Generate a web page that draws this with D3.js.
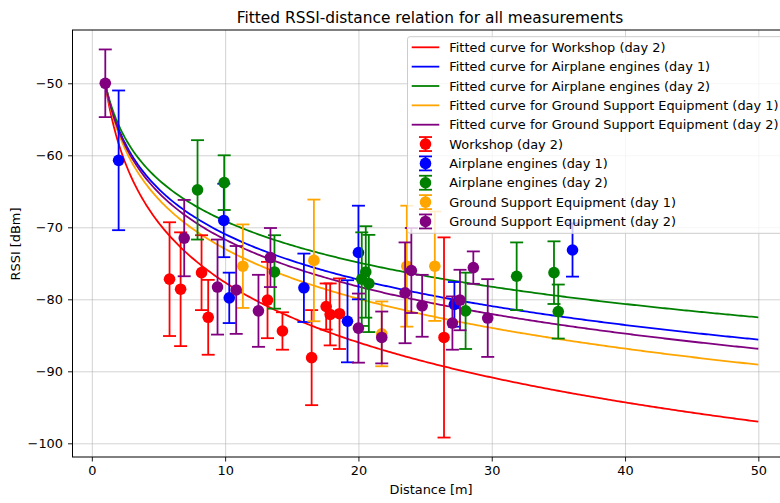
<!DOCTYPE html>
<html>
<head>
<meta charset="utf-8">
<script src="https://cdn.jsdelivr.net/npm/d3@7"></script>
<style>
  body { margin: 0; background: #fff; }
  svg { display: block; font-family: "DejaVu Sans", sans-serif; }
  .axis path, .axis line { stroke: #000; stroke-width: 0.9; }
  .axis text { font-size: 12.9px; fill: #000; font-family: "DejaVu Sans", sans-serif; }
  .grid line { stroke: #b0b0b0; stroke-opacity: 0.7; stroke-width: 0.8; }
  .grid path { display: none; }
</style>
</head>
<body>
<div id="chart"></div>
<script>
// series names, colours
let seriesNames = ['Workshop (day 2)', 'Airplane engines (day 1)', 'Airplane engines (day 2)',
                   'Ground Support Equipment (day 1)', 'Ground Support Equipment (day 2)'];
let seriesColors = ['red', 'blue', 'green', 'orange', 'purple'];

// fitted log-distance model: RSSI = fitRef - 10 * n * log10(d)
let fitRef = [-50, -50, -50, -50, -50];
let fitN = [2.766, 2.095, 1.913, 2.30, 2.17];
let fitRange = [1, 50];

// measurements: distance, mean rssi, error
let workshopX   = [5.83, 6.66, 8.23, 8.73, 13.18, 14.30, 16.49, 17.58, 17.88, 18.58, 26.42];
let workshopY   = [-77.2, -78.6, -76.3, -82.5, -80.1, -84.4, -88.1, -81.0, -82.1, -82.0, -85.3];
let workshopErr = [7.9, 7.9, 5.2, 5.2, 5.3, 2.6, 6.6, 3.2, 4.3, 4.9, 13.9];

let engines1X   = [2.01, 9.90, 10.31, 15.91, 19.18, 20.00, 27.20, 36.06];
let engines1Y   = [-60.7, -69.05, -79.8, -78.4, -83.05, -73.5, -80.7, -73.15];
let engines1Err = [9.7, 5.1, 3.5, 4.75, 5.7, 6.5, 3.1, 3.7];

let engines2X   = [7.93, 9.93, 13.70, 20.25, 20.55, 20.78, 28.04, 31.87, 34.67, 34.99];
let engines2Y   = [-64.8, -63.8, -76.2, -77.2, -76.2, -77.8, -81.6, -76.8, -76.3, -81.7];
let engines2Err = [6.9, 3.8, 5.1, 6.5, 6.35, 6.75, 5.3, 4.7, 4.35, 3.75];

let gse1X   = [11.33, 16.66, 21.75, 23.63, 25.73];
let gse1Y   = [-75.4, -74.6, -84.8, -75.4, -75.4];
let gse1Err = [5.8, 8.45, 4.5, 8.4, 7.6];

let gse2X   = [1.01, 6.93, 9.43, 10.83, 12.50, 13.40, 20.00, 21.75, 23.50, 23.97, 24.78, 27.05, 27.62, 28.62, 29.70];
let gse2Y   = [-50.0, -71.5, -78.3, -78.7, -81.6, -74.2, -84.0, -85.3, -79.1, -76.0, -80.9, -83.3, -80.1, -75.6, -82.6];
let gse2Err = [4.7, 5.3, 6.6, 6.1, 5.0, 4.1, 4.8, 3.6, 7.0, 5.9, 4.3, 3.7, 4.2, 2.25, 5.4];

let xTicks = [0, 10, 20, 30, 40, 50];
let yTicks = [-100, -90, -80, -70, -60, -50];

let measX = [workshopX, engines1X, engines2X, gse1X, gse2X];
let measY = [workshopY, engines1Y, engines2Y, gse1Y, gse2Y];
let measErr = [workshopErr, engines1Err, engines2Err, gse1Err, gse2Err];

let W = 780, H = 503;
let mLeft = 72.5, mRight = 791, mTop = 30, mBottom = 457;

let svg = d3.select('#chart').append('svg')
    .attr('width', W)
    .attr('height', H);

let x = d3.scaleLinear().domain([-1.45, 52.45]).range([mLeft, mRight]);
let y = d3.scaleLinear().domain([-101.9, -42.6]).range([mBottom, mTop]);

// grid
svg.append('g').attr('class', 'grid')
    .attr('transform', 'translate(0,' + mBottom + ')')
    .call(d3.axisBottom(x).tickValues(xTicks).tickSize(-(mBottom - mTop)).tickFormat(''));
svg.append('g').attr('class', 'grid')
    .attr('transform', 'translate(' + mLeft + ',0)')
    .call(d3.axisLeft(y).tickValues(yTicks).tickSize(-(mRight - mLeft)).tickFormat(''));

let plot = svg.append('g');

// fitted curves
let line = d3.line().x(d => x(d[0])).y(d => y(d[1]));
seriesNames.forEach((name, i) => {
    let pts = [];
    let steps = 300;
    for (let k = 0; k <= steps; k++) {
        let d = fitRange[0] + (fitRange[1] - fitRange[0]) * k / steps;
        pts.push([d, fitRef[i] - 10 * fitN[i] * Math.log10(d)]);
    }
    plot.append('path')
        .attr('d', line(pts))
        .attr('fill', 'none')
        .attr('stroke', seriesColors[i])
        .attr('stroke-width', 1.8);
});

// error bars + markers
let capW = 6.5;
seriesNames.forEach((name, i) => {
    let g = plot.append('g');
    let col = seriesColors[i];
    measX[i].forEach((xv, k) => {
        let yv = measY[i][k], e = measErr[i][k];
        let cx = x(xv);
        g.append('line')
            .attr('x1', cx).attr('x2', cx)
            .attr('y1', y(yv - e)).attr('y2', y(yv + e))
            .attr('stroke', col).attr('stroke-width', 1.8);
        [yv - e, yv + e].forEach(v => {
            g.append('line')
                .attr('x1', cx - capW).attr('x2', cx + capW)
                .attr('y1', y(v)).attr('y2', y(v))
                .attr('stroke', col).attr('stroke-width', 1.8);
        });
    });
    measX[i].forEach((xv, k) => {
        g.append('circle')
            .attr('cx', x(xv))
            .attr('cy', y(measY[i][k]))
            .attr('r', 5.8)
            .attr('fill', col);
    });
});

// axes
let xAxis = svg.append('g').attr('class', 'axis')
    .attr('transform', 'translate(0,' + mBottom + ')')
    .call(d3.axisBottom(x).tickValues(xTicks).tickSizeOuter(0).tickSize(4.5).tickPadding(4.5));
let yAxis = svg.append('g').attr('class', 'axis')
    .attr('transform', 'translate(' + mLeft + ',0)')
    .call(d3.axisLeft(y).tickValues(yTicks).tickSizeOuter(0).tickSize(4.5).tickPadding(5));
xAxis.select('.domain').remove();
yAxis.select('.domain').remove();

// frame
svg.append('rect')
    .attr('x', mLeft).attr('y', mTop)
    .attr('width', mRight - mLeft).attr('height', mBottom - mTop)
    .attr('fill', 'none').attr('stroke', '#000').attr('stroke-width', 1);

// titles
svg.append('text')
    .attr('x', 430).attr('y', 23)
    .attr('text-anchor', 'middle')
    .style('font-size', '15.4px')
    .text('Fitted RSSI-distance relation for all measurements');
svg.append('text')
    .attr('x', 431).attr('y', 494)
    .attr('text-anchor', 'middle')
    .style('font-size', '12.9px')
    .text('Distance [m]');
svg.append('text')
    .attr('transform', 'translate(19.5,244) rotate(-90)')
    .attr('text-anchor', 'middle')
    .style('font-size', '12.9px')
    .text('RSSI [dBm]');

// legend
let lg = svg.append('g').attr('transform', 'translate(407.5,36.7)');
lg.append('rect')
    .attr('width', 380).attr('height', 196.6)
    .attr('rx', 2.5)
    .attr('fill', '#fff').attr('fill-opacity', 0.8)
    .attr('stroke', '#cccccc').attr('stroke-width', 1);
let rowH = 19.35;
let rows = seriesNames.map((n, i) => ({ label: 'Fitted curve for ' + n, col: seriesColors[i], type: 'line' }))
    .concat(seriesNames.map((n, i) => ({ label: n, col: seriesColors[i], type: 'err' })));
rows.forEach((r, i) => {
    let cy = 10.6 + i * rowH;
    if (r.type == 'line') {
        lg.append('line')
            .attr('x1', 4.2).attr('x2', 31.8)
            .attr('y1', cy).attr('y2', cy)
            .attr('stroke', r.col).attr('stroke-width', 1.8);
    } else {
        lg.append('line')
            .attr('x1', 18).attr('x2', 18)
            .attr('y1', cy - 7).attr('y2', cy + 7)
            .attr('stroke', r.col).attr('stroke-width', 1.8);
        [cy - 7, cy + 7].forEach(v => {
            lg.append('line')
                .attr('x1', 18 - capW).attr('x2', 18 + capW)
                .attr('y1', v).attr('y2', v)
                .attr('stroke', r.col).attr('stroke-width', 1.8);
        });
        lg.append('circle')
            .attr('cx', 18).attr('cy', cy).attr('r', 5.8)
            .attr('fill', r.col);
    }
    lg.append('text')
        .attr('x', 41.8).attr('y', cy)
        .attr('dy', '0.36em')
        .style('font-size', '12.9px')
        .text(r.label);
});
</script>
</body>
</html>
